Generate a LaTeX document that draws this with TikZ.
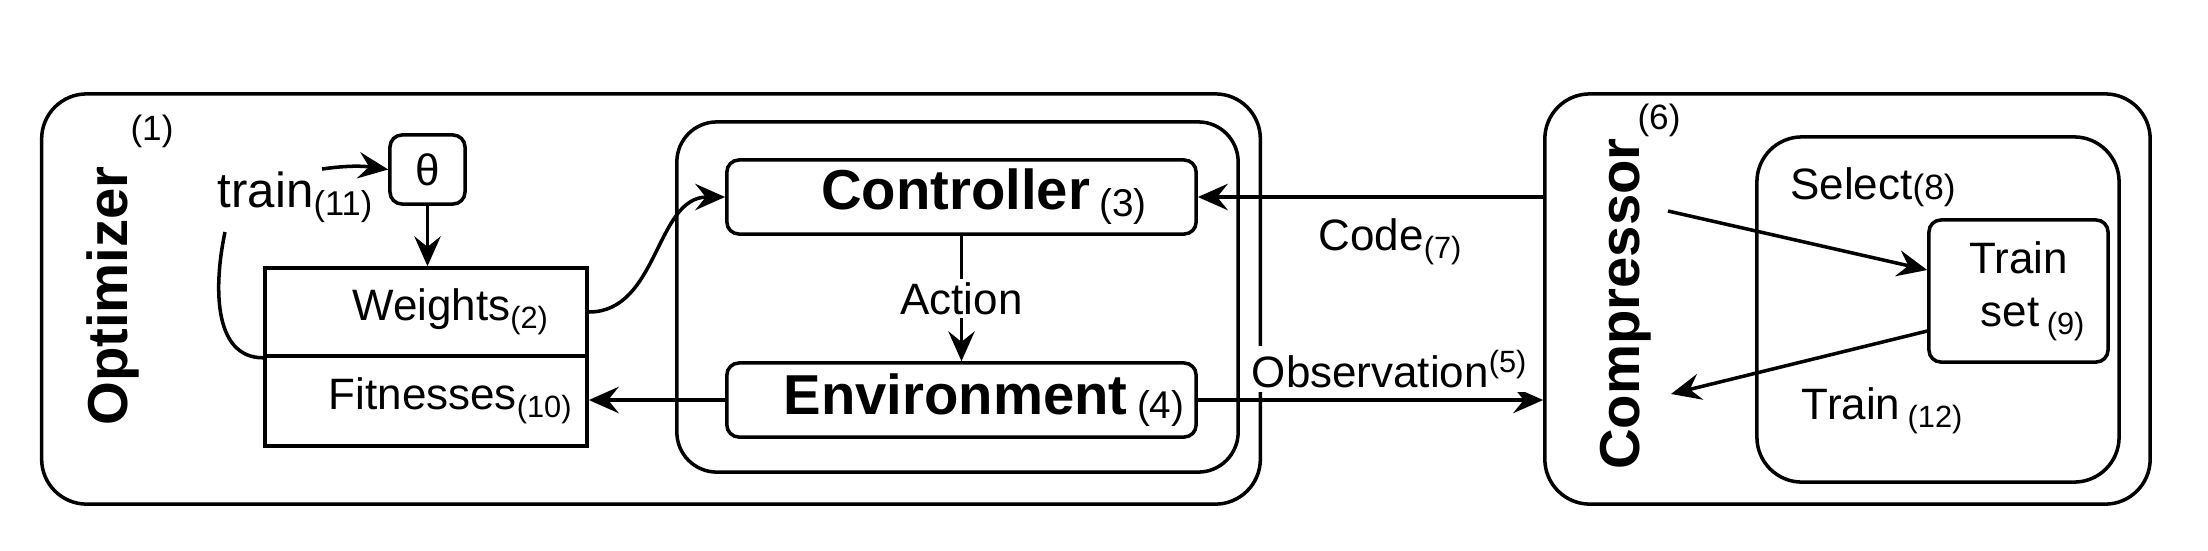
\documentclass[tikz,border=0pt]{standalone}
\usepackage{fontspec}
\setmainfont{Liberation Sans}
\usetikzlibrary{arrows.meta, positioning}

\begin{document}
\begin{tikzpicture}[
x=0.01cm, y=0.01cm,
line width=1pt,
frame/.style={draw, rounded corners=0.45cm, inner sep=0pt},
unit/.style={draw, rounded corners=0.12cm, inner sep=0pt, font=\bfseries\fontsize{16}{19}\selectfont},
cell/.style={draw, inner sep=0pt, minimum width=3.22cm, font=\fontsize{12.5}{15}\selectfont},
title/.style={rotate=90, font=\bfseries\fontsize{16}{19}\selectfont},
lbl/.style={font=\fontsize{12.5}{15}\selectfont, inner sep=1pt},
num/.style={font=\fontsize{10}{12}\selectfont, inner sep=1pt},
arrow/.style={-{Stealth[length=8.5pt, width=7.5pt, inset=3pt]}}
]
\useasboundingbox (0,0) rectangle (2208,550);

% optimizer side
\node[frame, minimum width=12.18cm, minimum height=4.1cm] (opt) at (651,251) {};
\node[title] (opttitle) at (113,254) {Optimizer};
\node[num] (optnum) at (152,419) {(1)};

\node[unit, font=\fontsize{12.5}{15}\selectfont, minimum width=0.75cm, minimum height=0.69cm] (theta) at (427.5,380.5) {θ};
\node[lbl, font=\fontsize{14}{17}\selectfont] (train) at (296,353) {train\textsubscript{(11)}};

\node[cell, minimum height=0.88cm] (weights) at (426,238) {\hspace{0.5cm}Weights\textsubscript{(2)}};
\node[cell, minimum height=0.9cm, below=-1pt of weights] (fit) {\hspace{0.5cm}Fitnesses\textsubscript{(10)}};

% controller and environment
\node[frame, rounded corners=0.4cm, minimum width=5.61cm, minimum height=3.5cm] (loop) at (957.5,253) {};
\node[unit, minimum width=4.69cm, minimum height=0.74cm] (ctrl) at (961.5,353)
{\hspace{0.45cm}Controller\,\raisebox{-2pt}{\mdseries\fontsize{11}{13}\selectfont(3)}};
\node[unit, minimum width=4.69cm, minimum height=0.74cm] (env) at (961.5,150)
{\hspace{0.45cm}Environment\,\raisebox{-1pt}{\mdseries\fontsize{11}{13}\selectfont(4)}};

% compressor side
\node[frame, minimum width=6.05cm, minimum height=4.1cm] (comp) at (1847.5,251) {};
\node[title] (comptitle) at (1626,246) {Compressor};
\node[num] (compnum) at (1659,430) {(6)};
\node[frame, minimum width=3.62cm, minimum height=3.45cm] (inner) at (1938,240.5) {};
\node[unit, font=\fontsize{12.5}{15}\selectfont, align=center, minimum width=1.79cm, minimum height=1.42cm] (trainset) at (2018.5,259)
{Train\\\hspace{0.3cm}set\,\textsubscript{(9)}};

\coordinate (selstart) at (1668,339);
\coordinate (trainend) at (1671,156);
\coordinate (thetastart) at (322,381);
\coordinate (curvestart) at (225,318);

\draw[arrow] (thetastart) to[out=8, in=172] (theta.west);
\draw (curvestart) to[out=-102, in=180] (weights.south west);
\draw[arrow] (theta.south) -- (theta.south |- weights.north);
\draw[arrow] (weights.east) to[out=0, in=180] (ctrl.west);
\draw[arrow] (ctrl.south) -- node[lbl, fill=white] (action) {Action} (env.north);
\draw[arrow] (env.west) -- (env.west -| fit.east);
\draw[arrow] (ctrl.east -| comp.west) -- (ctrl.east);
\draw[arrow] (env.east) -- (env.east -| comp.west);
\draw[arrow] (selstart) -- ([yshift=0.21cm]trainset.west);
\draw[arrow] ([yshift=-0.4cm]trainset.west) -- (trainend);

\node[lbl] (code) at (1391,308) {Code\textsubscript{(7)}};
\node[lbl, fill=white] (obs) at (1390,181) {Observation\textsuperscript{(5)}};
\node[lbl] (select) at (1873,363) {Select{\fontsize{10}{12}\selectfont(8)}};
\node[lbl] (trainlbl) at (1883,139) {Train\,\textsubscript{(12)}};

\end{tikzpicture}
\end{document}
